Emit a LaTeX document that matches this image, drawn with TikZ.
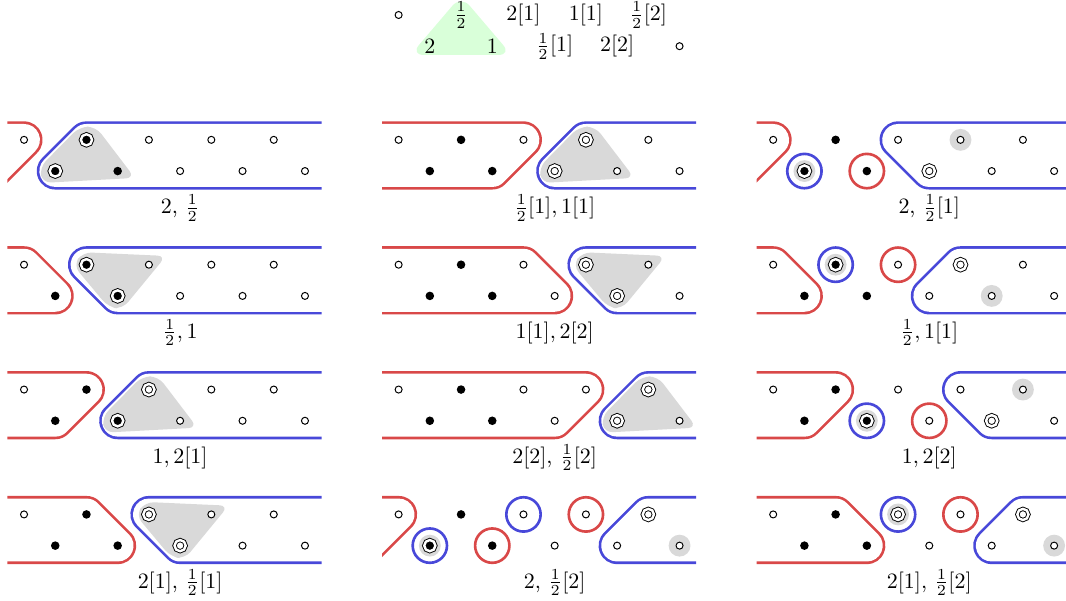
\documentclass[tikz,border=0pt]{standalone}
\usepackage{xcolor}
\definecolor{myred}{HTML}{D94848}
\definecolor{myblue}{HTML}{4848D9}
\tikzset{
  pto/.style={circle, draw=black, fill=white, line width=0.45pt, inner sep=0pt, minimum size=3.2pt},
  ptd/.style={circle, fill=black, inner sep=0pt, minimum size=3.9pt},
  ptrd/.style={circle, draw=black, fill=black, double=white, double distance=1.1pt, line width=0.42pt, inner sep=0pt, minimum size=5.1pt},
  ptro/.style={circle, draw=black, fill=white, double=white, double distance=1.1pt, line width=0.42pt, inner sep=0pt, minimum size=5.1pt},
  regout/.style={line width=0.55cm+1.2pt, line join=round},
  regin/.style={draw=white, fill=white, line width=0.55cm-1.2pt, line join=round},
  ring/.style={line width=1.2pt},
  hullfill/.style={fill=gray!30, rounded corners=4pt},
  gdisc/.style={fill=gray!30},
  lab/.style={anchor=base},
}
\def\regpass{out}
\newcommand\region[2]{\draw[#1, reg\regpass] #2;}
\newcommand\redl[2]{\region{myred}{(-3,1)--(#1,1)--(#2,0)--(-3,0)--cycle}}
\newcommand\bluer[2]{\region{myblue}{(#1,1)--(12,1)--(12,0)--(#2,0)--cycle}}
\newcommand\doregions[1]{%
  \begin{scope}\clip (-0.53,-1) rectangle (9.53,2); \def\regpass{out}#1\end{scope}%
  \begin{scope}\clip (-0.64,-1) rectangle (9.64,2); \def\regpass{in}#1\end{scope}}
\newcommand\hullA[3]{\fill[hullfill] ({#1-0.22},1.42) -- ({#1+0.3},1.42) -- ({#3+0.55},-0.22) -- ({#2-0.42},-0.38) -- ({#2-0.5},0.12) -- cycle;}
\newcommand\hullB[3]{\fill[hullfill] ({#1-0.12},1.4) -- ({#2+0.55},1.28) -- ({#3+0.15},-0.42) -- ({#3-0.3},-0.36) -- ({#1-0.42},0.98) -- cycle;}
\newcommand\toprow[6]{\node[pt#2] (#1t0) at (0,1) {}; \node[pt#3] (#1t2) at (2,1) {}; \node[pt#4] (#1t4) at (4,1) {}; \node[pt#5] (#1t6) at (6,1) {}; \node[pt#6] (#1t8) at (8,1) {};}
\newcommand\botrow[6]{\node[pt#2] (#1b1) at (1,0) {}; \node[pt#3] (#1b3) at (3,0) {}; \node[pt#4] (#1b5) at (5,0) {}; \node[pt#5] (#1b7) at (7,0) {}; \node[pt#6] (#1b9) at (9,0) {};}
\newcommand\pclip{\clip (-0.53,-1) rectangle (9.53,2);}
\begin{document}
\begin{tikzpicture}[x=0.5cm, y=0.5cm]
\useasboundingbox (-0.77,-13.75) rectangle (33.38,5.48);
% header
\fill[green!15, rounded corners=6pt] (14,5.62) -- (15.62,3.72) -- (12.38,3.72) -- cycle;
\node[pto] (h0) at (12,5) {};
\node (h1) at (14,5) {$\frac12$};
\node (h2) at (16,5) {$2[1]$};
\node (h3) at (18,5) {$1[1]$};
\node (h4) at (20,5) {$\frac12[2]$};
\node (h5) at (13,4) {$2$};
\node (h6) at (15,4) {$1$};
\node (h7) at (17,4) {$\frac12[1]$};
\node (h8) at (19,4) {$2[2]$};
\node[pto] (h9) at (21,4) {};
% ---------- column 1 ----------
\begin{scope}[shift={(0,0)}]
 \doregions{\redl{0}{-1} \bluer{2}{1}}
 \begin{scope}\pclip \hullA{2}{1}{3} \end{scope}
 \toprow{a}{o}{rd}{o}{o}{o}
 \botrow{a}{rd}{d}{o}{o}{o}
 \node[lab] (alab) at (5,-1.36) {$2$, $\frac12$};
\end{scope}
\begin{scope}[shift={(0,-4)}]
 \doregions{\redl{0}{1} \bluer{2}{3}}
 \begin{scope}\pclip \hullB{2}{4}{3} \end{scope}
 \toprow{b}{o}{rd}{o}{o}{o}
 \botrow{b}{d}{rd}{o}{o}{o}
 \node[lab] (blab) at (5,-1.36) {$\frac12, 1$};
\end{scope}
\begin{scope}[shift={(0,-8)}]
 \doregions{\redl{2}{1} \bluer{4}{3}}
 \begin{scope}\pclip \hullA{4}{3}{5} \end{scope}
 \toprow{c}{o}{d}{ro}{o}{o}
 \botrow{c}{d}{rd}{o}{o}{o}
 \node[lab] (clab) at (5,-1.36) {$1, 2[1]$};
\end{scope}
\begin{scope}[shift={(0,-12)}]
 \doregions{\redl{2}{3} \bluer{4}{5}}
 \begin{scope}\pclip \hullB{4}{6}{5} \end{scope}
 \toprow{d}{o}{d}{ro}{o}{o}
 \botrow{d}{d}{d}{ro}{o}{o}
 \node[lab] (dlab) at (5,-1.36) {$2[1]$, $\frac12[1]$};
\end{scope}
% ---------- column 2 ----------
\begin{scope}[shift={(12,0)}]
 \doregions{\redl{4}{3} \bluer{6}{5}}
 \begin{scope}\pclip \hullA{6}{5}{7} \end{scope}
 \toprow{e}{o}{d}{o}{ro}{o}
 \botrow{e}{d}{d}{ro}{o}{o}
 \node[lab] (elab) at (5,-1.36) {$\frac12[1], 1[1]$};
\end{scope}
\begin{scope}[shift={(12,-4)}]
 \doregions{\redl{4}{5} \bluer{6}{7}}
 \begin{scope}\pclip \hullB{6}{8}{7} \end{scope}
 \toprow{f}{o}{d}{o}{ro}{o}
 \botrow{f}{d}{d}{o}{ro}{o}
 \node[lab] (flab) at (5,-1.36) {$1[1], 2[2]$};
\end{scope}
\begin{scope}[shift={(12,-8)}]
 \doregions{\redl{6}{5} \bluer{8}{7}}
 \begin{scope}\pclip \hullA{8}{7}{9} \end{scope}
 \toprow{g}{o}{d}{o}{o}{ro}
 \botrow{g}{d}{d}{o}{ro}{o}
 \node[lab] (glab) at (5,-1.36) {$2[2]$, $\frac12[2]$};
\end{scope}
\begin{scope}[shift={(12,-12)}]
 \doregions{\redl{0}{-1} \bluer{8}{7}}
 \fill[gdisc] (1,0) circle (0.35); \fill[gdisc] (9,0) circle (0.35);
 \draw[myblue, ring] (1,0) circle (0.55); \draw[myred, ring] (3,0) circle (0.55);
 \draw[myblue, ring] (4,1) circle (0.55); \draw[myred, ring] (6,1) circle (0.55);
 \toprow{h}{o}{d}{o}{o}{ro}
 \botrow{h}{rd}{d}{o}{o}{o}
 \node[lab] (hlab) at (5,-1.36) {$2$, $\frac12[2]$};
\end{scope}
% ---------- column 3 ----------
\begin{scope}[shift={(24,0)}]
 \doregions{\redl{0}{-1} \bluer{4}{5}}
 \fill[gdisc] (1,0) circle (0.35); \fill[gdisc] (6,1) circle (0.35);
 \draw[myblue, ring] (1,0) circle (0.55); \draw[myred, ring] (3,0) circle (0.55);
 \toprow{i}{o}{d}{o}{o}{o}
 \botrow{i}{rd}{d}{ro}{o}{o}
 \node[lab] (ilab) at (5,-1.36) {$2$, $\frac12[1]$};
\end{scope}
\begin{scope}[shift={(24,-4)}]
 \doregions{\redl{0}{1} \bluer{6}{5}}
 \fill[gdisc] (2,1) circle (0.35); \fill[gdisc] (7,0) circle (0.35);
 \draw[myblue, ring] (2,1) circle (0.55); \draw[myred, ring] (4,1) circle (0.55);
 \toprow{j}{o}{rd}{o}{ro}{o}
 \botrow{j}{d}{d}{o}{o}{o}
 \node[lab] (jlab) at (5,-1.36) {$\frac12, 1[1]$};
\end{scope}
\begin{scope}[shift={(24,-8)}]
 \doregions{\redl{2}{1} \bluer{6}{7}}
 \fill[gdisc] (3,0) circle (0.35); \fill[gdisc] (8,1) circle (0.35);
 \draw[myblue, ring] (3,0) circle (0.55); \draw[myred, ring] (5,0) circle (0.55);
 \toprow{k}{o}{d}{o}{o}{o}
 \botrow{k}{d}{rd}{o}{ro}{o}
 \node[lab] (klab) at (5,-1.36) {$1, 2[2]$};
\end{scope}
\begin{scope}[shift={(24,-12)}]
 \doregions{\redl{2}{3} \bluer{8}{7}}
 \fill[gdisc] (4,1) circle (0.35); \fill[gdisc] (9,0) circle (0.35);
 \draw[myblue, ring] (4,1) circle (0.55); \draw[myred, ring] (6,1) circle (0.55);
 \toprow{l}{o}{d}{ro}{o}{ro}
 \botrow{l}{d}{d}{o}{o}{o}
 \node[lab] (llab) at (5,-1.36) {$2[1]$, $\frac12[2]$};
\end{scope}
\end{tikzpicture}
\end{document}
